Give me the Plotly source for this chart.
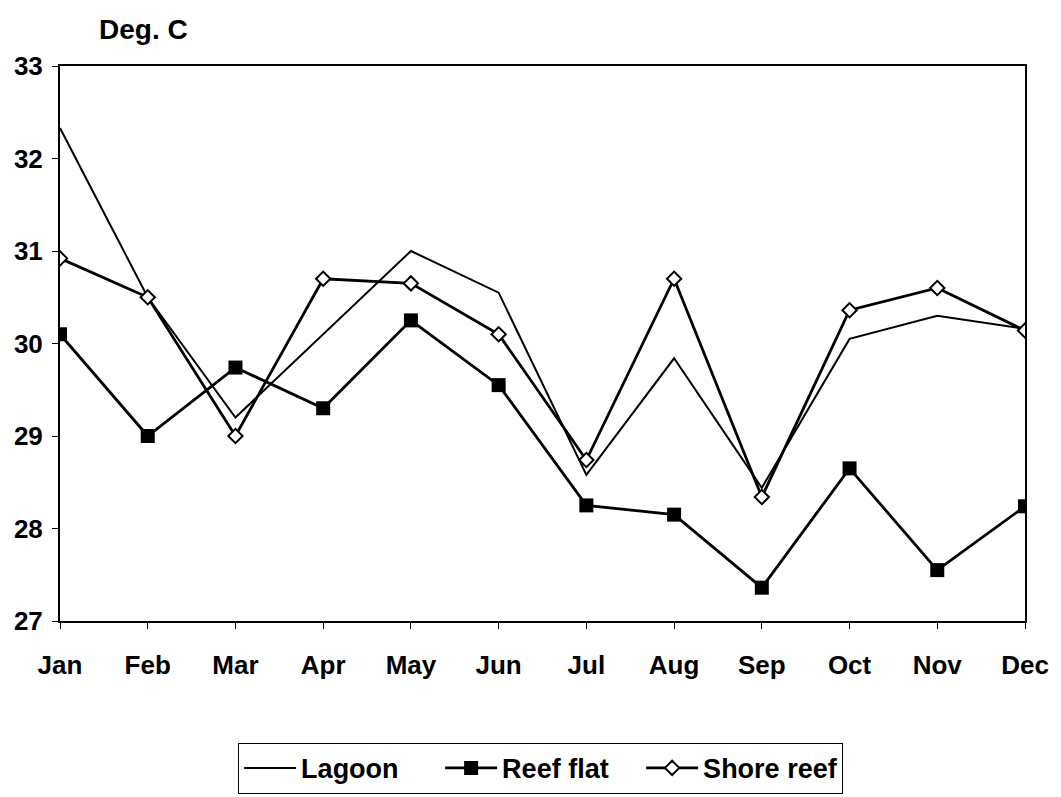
import plotly.graph_objects as go

months = ["Jan", "Feb", "Mar", "Apr", "May", "Jun", "Jul", "Aug", "Sep", "Oct", "Nov", "Dec"]
lagoon = [32.33, 30.5, 29.2, 30.1, 31.0, 30.55, 28.58, 29.84, 28.44, 30.05, 30.3, 30.16]
reef_flat = [30.1, 29.0, 29.74, 29.3, 30.25, 29.55, 28.25, 28.15, 27.36, 28.65, 27.55, 28.24]
shore_reef = [30.92, 30.5, 29.0, 30.7, 30.65, 30.1, 28.74, 30.7, 28.34, 30.36, 30.6, 30.14]
y_ticks = [27, 28, 29, 30, 31, 32, 33]

font_family = "Liberation Sans, Arial, sans-serif"

fig = go.Figure()
fig.add_trace(go.Scatter(x=months, y=lagoon, name="Lagoon", mode="lines",
                         line=dict(color="black", width=2)))
fig.add_trace(go.Scatter(x=months, y=reef_flat, name="Reef flat", mode="lines+markers",
                         line=dict(color="black", width=2.8),
                         marker=dict(symbol="square", size=14, color="black")))
fig.add_trace(go.Scatter(x=months, y=shore_reef, name="Shore reef", mode="lines+markers",
                         line=dict(color="black", width=2.8),
                         marker=dict(symbol="diamond", size=11, color="white",
                                     line=dict(color="black", width=2))))

fig.update_layout(
    width=1061, height=797,
    paper_bgcolor="white", plot_bgcolor="white",
    margin=dict(l=52, r=44, t=58, b=184),
    font=dict(family=font_family, size=26, color="black"),
    showlegend=True,
    legend=dict(orientation="h", xref="container", yref="container",
                x=0.502, xanchor="center", y=0.046, yanchor="middle",
                bordercolor="black", borderwidth=1,
                font=dict(size=27, color="black", weight="bold"),
                itemwidth=52, entrywidth=134, tracegroupgap=0),
    annotations=[dict(text="Deg. C", x=0.038, y=1.065, xref="paper", yref="paper",
                      xanchor="left", yanchor="middle", showarrow=False,
                      font=dict(size=28, weight="bold"))],
)

fig.update_xaxes(type="category", range=[0, 11], showline=True, linecolor="black", linewidth=2,
                 mirror=True, ticks="outside", ticklen=6, tickcolor="black", showgrid=False,
                 tickfont=dict(size=26, family=font_family, weight="bold"), ticklabelstandoff=14,
                 automargin=False)
fig.update_yaxes(range=[27, 33], tickvals=y_ticks, showline=True, linecolor="black", linewidth=2,
                 mirror=True, ticks="outside", ticklen=6, tickcolor="black", showgrid=False,
                 zeroline=False, tickfont=dict(size=26, family=font_family, weight="bold"),
                 ticklabelstandoff=4, automargin=False)

fig.write_html("out.html")
